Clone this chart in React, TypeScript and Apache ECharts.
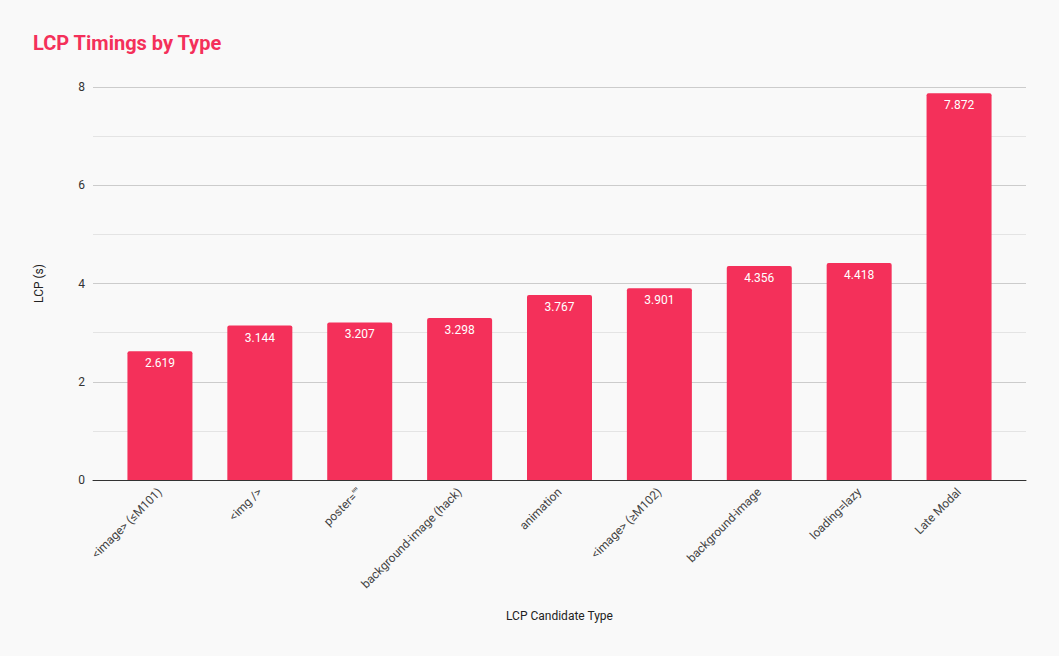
import React, { useEffect, useRef } from 'react';
import * as echarts from 'echarts';

const categories = [
  '<image> (≤M101)',
  '<img />',
  'poster=""',
  'background-image (hack)',
  'animation',
  '<image> (≥M102)',
  'background-image',
  'loading=lazy',
  'Late Modal',
];
const lcpValues = [2.619, 3.144, 3.207, 3.298, 3.767, 3.901, 4.356, 4.418, 7.872];
const yMin = 0;
const yMax = 8;

const PINK = '#f4305a';

const App: React.FC = () => {
  const chartRef = useRef<HTMLDivElement>(null);

  useEffect(() => {
    document.body.style.margin = '0';
    if (!chartRef.current) return;
    const chart = echarts.init(chartRef.current, undefined, { renderer: 'svg' });

    const options = {
      animation: false,
      backgroundColor: '#f9f9f9',
      textStyle: { fontFamily: 'Roboto' },
      title: {
        text: 'LCP Timings by Type',
        left: 33,
        top: 33,
        padding: 0,
        textStyle: { color: PINK, fontSize: 20, fontWeight: 'bold', fontFamily: 'Roboto' },
      },
      grid: [
        { left: 93, right: 33, top: 87, bottom: 176 },
        { left: 110, right: 50, top: 87, bottom: 176 },
      ],
      xAxis: [
        {
          type: 'value',
          gridIndex: 0,
          min: 0,
          max: 1,
          axisLine: { show: true, onZero: true, lineStyle: { color: '#333', width: 1 } },
          axisTick: { show: false },
          axisLabel: { show: false },
          splitLine: { show: false },
        },
        {
          type: 'category',
          gridIndex: 1,
          data: categories,
          name: 'LCP Candidate Type',
          nameLocation: 'middle',
          nameGap: 130,
          nameTextStyle: { color: '#222', fontSize: 12 },
          axisLine: { show: false },
          axisTick: { show: false },
          axisLabel: {
            interval: 0,
            rotate: 45,
            color: '#444',
            fontSize: 12,
            margin: 10,
          },
        },
      ],
      yAxis: [
        {
          type: 'value',
          gridIndex: 0,
          min: yMin,
          max: yMax,
          interval: 1,
          name: 'LCP (s)',
          nameLocation: 'middle',
          nameGap: 48,
          nameTextStyle: { color: '#222', fontSize: 12 },
          axisLine: { show: false },
          axisTick: { show: false },
          axisLabel: {
            color: '#333',
            fontSize: 12,
            margin: 8,
            formatter: (v: number) => (v % 2 === 0 ? String(v) : ''),
          },
          splitLine: { lineStyle: { color: ['#cccccc', '#e4e4e4'], width: 1 } },
        },
        {
          type: 'value',
          gridIndex: 1,
          min: yMin,
          max: yMax,
          show: false,
          splitLine: { show: false },
        },
      ],
      series: [
        {
          type: 'bar',
          xAxisIndex: 1,
          yAxisIndex: 1,
          data: lcpValues,
          barWidth: 65,
          itemStyle: { color: PINK, borderRadius: [2, 2, 0, 0] },
          label: {
            show: true,
            position: 'insideTop',
            distance: 6,
            color: '#fff',
            fontSize: 12,
            formatter: (p: any) => p.value.toFixed(3),
          },
        },
      ],
    };
    chart.setOption(options);

    return () => {
      chart.dispose();
    };
  }, []);

  return <div ref={chartRef} style={{ width: 1059, height: 656 }} />;
};

export default App;
